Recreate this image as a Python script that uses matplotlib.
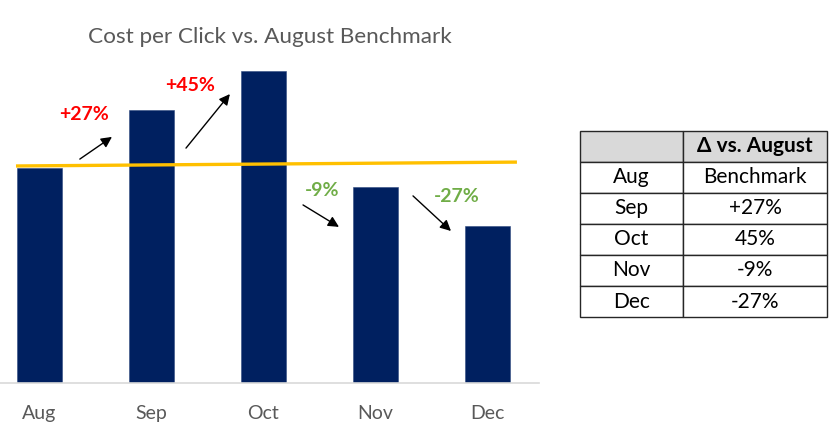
import matplotlib
matplotlib.use("Agg")
import matplotlib.pyplot as plt

# ---- data ----
months = ["Aug", "Sep", "Oct", "Nov", "Dec"]
cpc_index = [1.00, 1.27, 1.45, 0.91, 0.73]
change_labels = ["+27%", "+45%", "-9%", "-27%"]
table_months = ["Aug", "Sep", "Oct", "Nov", "Dec"]
table_delta = ["Benchmark", "+27%", "45%", "-9%", "-27%"]
table_header = ["", "Δ vs. August"]

FONT = ["Lato", "DejaVu Sans"]
plt.rcParams["font.family"] = FONT

W, H = 833, 437
fig = plt.figure(figsize=(W / 100, H / 100), dpi=100)

def px(x0, y0, x1, y1):
    # pixel box (top-left origin) -> figure fraction rect
    return [x0 / W, 1 - y1 / H, (x1 - x0) / W, (y1 - y0) / H]

ax = fig.add_axes(px(0, 383 - 1.6 * 215.3, 539, 383))
xs = list(range(len(months)))
ax.bar(xs, cpc_index, width=0.4, color="#002060", edgecolor="#2F4A7F", linewidth=0.4, zorder=2)
ax.set_xlim(-0.3527, 4.46)
ax.set_ylim(0, 1.6)
for s in ["top", "right", "left"]:
    ax.spines[s].set_visible(False)
ax.spines["bottom"].set_color("#D9D9D9")
ax.spines["bottom"].set_linewidth(1.2)
ax.set_yticks([])
ax.set_xticks(xs)
ax.set_xticklabels(months, fontsize=14, color="#595959")
ax.tick_params(axis="x", length=0, pad=16)

# benchmark line
ax.plot([-0.21, 4.263], [1.008, 1.026], color="#FFC000", linewidth=2.4, zorder=3, solid_capstyle="butt")

# change arrows and labels
arrows = [((0.36, 1.040), (0.647, 1.143)),
          ((1.308, 1.091), (1.70, 1.342)),
          ((2.353, 0.827), (2.674, 0.725)),
          ((3.335, 0.869), (3.674, 0.706))]
label_pos = [(0.393, 1.245), (1.348, 1.384), (2.522, 0.892), (3.728, 0.864)]
label_col = ["#FF0000", "#FF0000", "#70AD47", "#70AD47"]
for (t, h), lab, (lx, ly), c in zip(arrows, change_labels, label_pos, label_col):
    ax.annotate("", xy=h, xytext=t,
                arrowprops=dict(arrowstyle="-|>", color="black", lw=1.0,
                                mutation_scale=16, shrinkA=0, shrinkB=0), zorder=4)
    ax.text(lx, ly, lab, color=c, fontsize=14, fontweight="bold", ha="center", va="center")

fig.text(269.5 / W, 1 - 37 / H, "Cost per Click vs. August Benchmark",
         fontsize=16.2, color="#595959", ha="center", va="center")

# table
tax = fig.add_axes(px(580, 131, 827, 317))
tax.axis("off")
cells = [table_header] + [[m, d] for m, d in zip(table_months, table_delta)]
tbl = tax.table(cellText=cells, bbox=[0, 0, 1, 1], cellLoc="center",
                colWidths=[103 / 247, 144 / 247])
tbl.auto_set_font_size(False)
for (r, c), cell in tbl.get_celld().items():
    cell.set_edgecolor("#262626")
    cell.set_linewidth(1.0)
    cell.get_text().set_fontsize(15)
    cell.get_text().set_color("black")
    if r == 0:
        cell.set_facecolor("#D9D9D9")
        cell.get_text().set_fontweight("bold")

fig.savefig("out.png", dpi=100)
